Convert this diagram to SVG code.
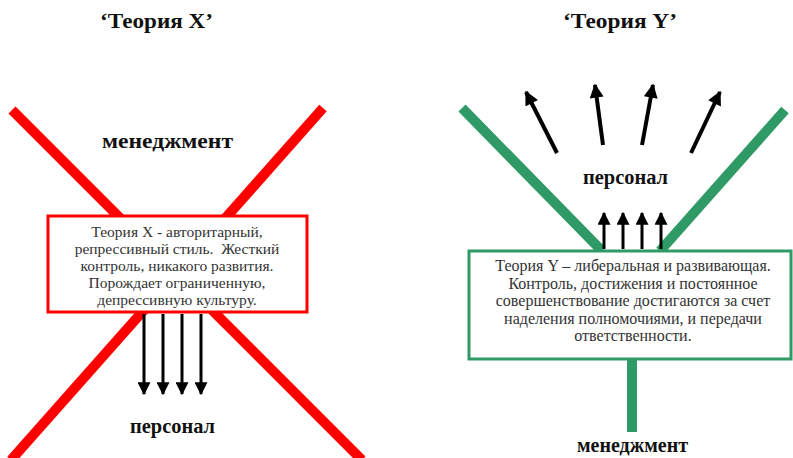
<svg xmlns="http://www.w3.org/2000/svg" width="793" height="458" viewBox="0 0 793 458">
<style>
.title{font-family:"Liberation Serif","Tinos","Noto Serif","DejaVu Serif","Times New Roman",serif;font-weight:bold;font-size:22px;fill:#111;text-anchor:middle}
.lbl{font-family:"Liberation Serif","Tinos","Noto Serif","DejaVu Serif","Times New Roman",serif;font-weight:bold;font-size:21px;fill:#111;text-anchor:middle}
.body{font-family:"Liberation Serif","Tinos","Noto Serif","DejaVu Serif","Times New Roman",serif;font-size:15.5px;fill:#333;text-anchor:middle}
.bodyy{font-family:"Liberation Serif","Tinos","Noto Serif","DejaVu Serif","Times New Roman",serif;font-size:16px;fill:#333;text-anchor:middle}
.red{stroke:#FF0000;stroke-width:10;fill:none}
.grn{stroke:#2F9A66;stroke-width:10;fill:none}
.arr{stroke:#000;fill:none}
</style>
<defs>
<marker id="ah" viewBox="0 0 10 10" refX="9" refY="5" markerWidth="13" markerHeight="13" markerUnits="userSpaceOnUse" orient="auto">
<path d="M0,0 L10,5 L0,10 Z" fill="#000"/>
</marker>
<marker id="ahb" viewBox="0 0 10 10" refX="9" refY="5" markerWidth="15" markerHeight="14" markerUnits="userSpaceOnUse" orient="auto">
<path d="M0,0 L10,5 L0,10 Z" fill="#000"/>
</marker>
</defs>
<rect width="793" height="458" fill="#fff"/>

<g id="theory-x">
<text class="title" x="156.5" y="28" textLength="113" lengthAdjust="spacingAndGlyphs">‘Теория X’</text>
<g id="x-lines">
<line class="red" x1="12" y1="110" x2="362" y2="460"/>
<line class="red" x1="323" y1="108" x2="11" y2="460"/>
</g>
<g id="x-management"><text class="lbl" x="167.5" y="148" textLength="131" lengthAdjust="spacingAndGlyphs">менеджмент</text></g>
<g id="x-box">
<rect x="48" y="216" width="259" height="96" fill="#fff" stroke="#FF0000" stroke-width="3"/>
<text class="body" x="177" y="237">Теория X - авторитарный,</text>
<text class="body" x="177" y="254">репрессивный стиль.&#160; Жесткий</text>
<text class="body" x="177" y="271">контроль, никакого развития.</text>
<text class="body" x="177" y="288">Порождает ограниченную,</text>
<text class="body" x="177" y="305">депрессивную культуру.</text>
</g>
<g id="x-arrows" class="arr" stroke-width="3">
<line x1="144" y1="314" x2="144" y2="394" marker-end="url(#ah)"/>
<line x1="163" y1="314" x2="163" y2="394" marker-end="url(#ah)"/>
<line x1="182" y1="314" x2="182" y2="394" marker-end="url(#ah)"/>
<line x1="201" y1="314" x2="201" y2="394" marker-end="url(#ah)"/>
</g>
<g id="x-staff"><text class="lbl" x="172.5" y="433" textLength="85" lengthAdjust="spacingAndGlyphs">персонал</text></g>
</g>

<g id="theory-y">
<text class="title" x="620" y="28" textLength="114" lengthAdjust="spacingAndGlyphs">‘Теория Y’</text>
<g id="y-lines">
<line class="grn" x1="462" y1="108" x2="602" y2="251"/>
<line class="grn" x1="785" y1="110" x2="660" y2="251"/>
</g>
<g id="y-fan" class="arr" stroke-width="4">
<line x1="557" y1="153" x2="526" y2="92" marker-end="url(#ahb)"/>
<line x1="603" y1="145" x2="595" y2="85" marker-end="url(#ahb)"/>
<line x1="642" y1="145" x2="653" y2="85" marker-end="url(#ahb)"/>
<line x1="691" y1="153" x2="720" y2="92" marker-end="url(#ahb)"/>
</g>
<g id="y-staff"><text class="lbl" x="625.5" y="184" textLength="85" lengthAdjust="spacingAndGlyphs">персонал</text></g>
<g id="y-up" class="arr" stroke-width="3">
<line x1="604" y1="249" x2="604" y2="213" marker-end="url(#ah)"/>
<line x1="623" y1="249" x2="623" y2="213" marker-end="url(#ah)"/>
<line x1="642" y1="249" x2="642" y2="213" marker-end="url(#ah)"/>
<line x1="661" y1="249" x2="661" y2="213" marker-end="url(#ah)"/>
</g>
<g id="y-box">
<rect x="469" y="251" width="322" height="108" fill="#fff" stroke="#2F9A66" stroke-width="3"/>
<text class="bodyy" x="633" y="271">Теория Y – либеральная и развивающая.</text>
<text class="bodyy" x="633" y="289">Контроль, достижения и постоянное</text>
<text class="bodyy" x="633" y="306">совершенствование достигаются за счет</text>
<text class="bodyy" x="633" y="324">наделения полномочиями, и передачи</text>
<text class="bodyy" x="633" y="341">ответственности.</text>
</g>
<line class="grn" x1="632" y1="360" x2="632" y2="432"/>
<g id="y-management"><text class="lbl" x="632.5" y="452" font-size="20" textLength="111" lengthAdjust="spacingAndGlyphs">менеджмент</text></g>
</g>
</svg>
